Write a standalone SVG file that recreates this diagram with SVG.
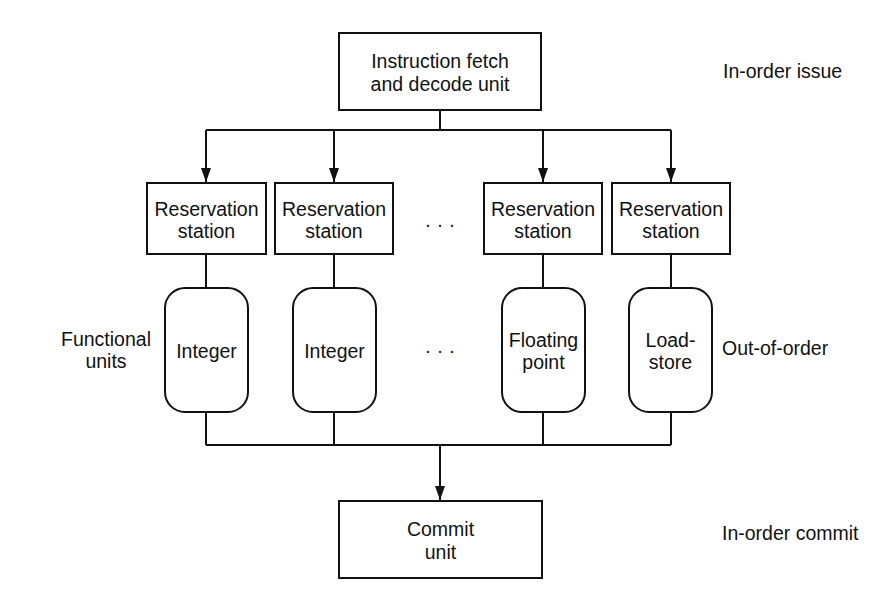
<svg xmlns="http://www.w3.org/2000/svg" width="878" height="613" viewBox="0 0 878 613">
<style>
text{font-family:"Liberation Sans",Arial,sans-serif;font-size:19.5px;fill:#111;text-anchor:middle}
.l{text-anchor:start}
.b{fill:#fff;stroke:#111;stroke-width:2}
.c{fill:none;stroke:#111;stroke-width:2}
</style>
<defs>
<marker id="ah" markerUnits="userSpaceOnUse" markerWidth="14" markerHeight="10" viewBox="0 0 14 10" refX="14" refY="5" orient="auto">
<path d="M0,0 L14,5 L0,10 Z" fill="#111"/>
</marker>
</defs>
<rect width="878" height="613" fill="#fff"/>
<g id="connectors">
<path class="c" d="M440,111 V130 M206,130 H671"/>
<path class="c" d="M206,130 V182" marker-end="url(#ah)"/>
<path class="c" d="M334,130 V182" marker-end="url(#ah)"/>
<path class="c" d="M543,130 V182" marker-end="url(#ah)"/>
<path class="c" d="M671,130 V182" marker-end="url(#ah)"/>
<path class="c" d="M206,254 V288 M334,254 V288 M543,254 V288 M671,254 V288"/>
<path class="c" d="M206,412 V445 M334,412 V445 M543,412 V445 M671,412 V445 M206,445 H671"/>
<path class="c" d="M440,445 V500" marker-end="url(#ah)"/>
</g>
<g id="fetch"><rect class="b" x="339" y="33" width="202" height="77"/><text x="440" y="68">Instruction fetch</text><text x="440" y="91">and decode unit</text></g>
<g id="rs1"><rect class="b" x="147" y="183" width="119" height="71"/><text x="206.5" y="216">Reservation</text><text x="206.5" y="238">station</text></g>
<g id="rs2"><rect class="b" x="275" y="183" width="118" height="71"/><text x="334" y="216">Reservation</text><text x="334" y="238">station</text></g>
<g id="rs3"><rect class="b" x="484" y="183" width="118" height="71"/><text x="543" y="216">Reservation</text><text x="543" y="238">station</text></g>
<g id="rs4"><rect class="b" x="612" y="183" width="118" height="71"/><text x="671" y="216">Reservation</text><text x="671" y="238">station</text></g>
<g id="fu1"><rect class="b" x="165" y="288" width="83" height="124" rx="20"/><text x="206.5" y="358">Integer</text></g>
<g id="fu2"><rect class="b" x="293" y="288" width="83" height="124" rx="20"/><text x="334.5" y="358">Integer</text></g>
<g id="fu3"><rect class="b" x="502" y="288" width="83" height="124" rx="20"/><text x="543.5" y="347">Floating</text><text x="543.5" y="369">point</text></g>
<g id="fu4"><rect class="b" x="629" y="288" width="83" height="124" rx="20"/><text x="670.5" y="347">Load-</text><text x="670.5" y="369">store</text></g>
<g id="commit"><rect class="b" x="339" y="501" width="203" height="77"/><text x="440.5" y="536">Commit</text><text x="440.5" y="559">unit</text></g>
<g id="labels">
<text x="440" y="231">· · ·</text>
<text x="440" y="357">· · ·</text>
<text class="l" x="723" y="78">In-order issue</text>
<text x="106" y="346">Functional</text>
<text x="106" y="368">units</text>
<text class="l" x="722" y="355">Out-of-order</text>
<text class="l" x="722" y="540">In-order commit</text>
</g>
</svg>
